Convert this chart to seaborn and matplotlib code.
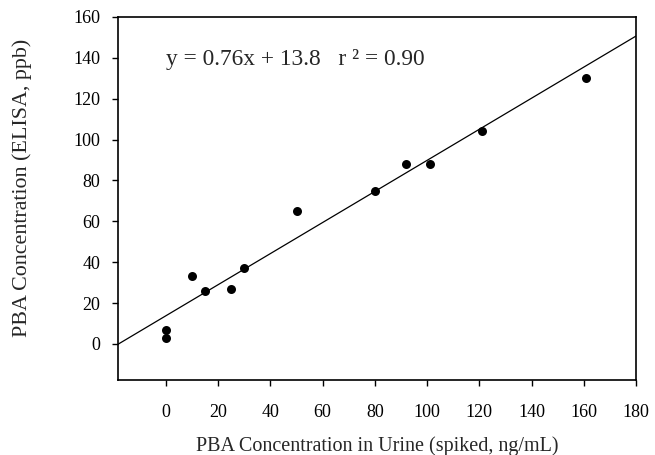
import numpy as np
import pandas as pd
import matplotlib
matplotlib.use("Agg")
import matplotlib.pyplot as plt
import seaborn as sns

# Data
spiked = [0, 0, 10, 15, 25, 30, 50, 80, 92, 101, 121, 161]
elisa = [3, 7, 33, 26, 27, 37, 65, 75, 88, 88, 104, 130]
slope = 0.76
intercept = 13.8
r2 = 0.90
x_ticks = [0, 20, 40, 60, 80, 100, 120, 140, 160, 180]
y_ticks = [0, 20, 40, 60, 80, 100, 120, 140, 160]

sns.set_theme(style="ticks")
plt.rcParams['font.family'] = ['Liberation Serif', 'DejaVu Serif']

fig = plt.figure(figsize=(6.55, 4.55), dpi=100)
ax = fig.add_axes([0.180, 0.165, 0.791, 0.798])

xlim = (-18.4, 180)
ylim = (-17.6, 160)

df = pd.DataFrame({"x": spiked, "y": elisa})
sns.scatterplot(data=df, x="x", y="y", ax=ax, color="black", s=42,
                edgecolor="black", linewidth=0, zorder=3)

xl = np.array(xlim)
line_df = pd.DataFrame({"x": xl, "y": slope * xl + intercept})
sns.lineplot(data=line_df, x="x", y="y", ax=ax, color="black", linewidth=0.9)

ax.set_xlim(*xlim)
ax.set_ylim(*ylim)
ax.set_xticks(x_ticks)
ax.set_yticks(y_ticks)
ax.tick_params(axis="x", direction="out", length=4.5, width=1, pad=13,
               labelsize=13, colors="black")
ax.tick_params(axis="y", direction="out", length=4.5, width=1, pad=8,
               labelsize=13, colors="black")
for sp in ax.spines.values():
    sp.set_visible(True)
    sp.set_color("black")
    sp.set_linewidth(1.2)

ax.set_xlabel("PBA Concentration in Urine (spiked, ng/mL)", fontsize=14.5)
ax.xaxis.set_label_coords(377 / 655, 1 - 446 / 455, transform=fig.transFigure)
ax.xaxis.label.set_va("center")
ax.set_ylabel("PBA Concentration (ELISA, ppb)", fontsize=15.8)
ax.yaxis.set_label_coords(22 / 655, 1 - 188 / 455, transform=fig.transFigure)
ax.yaxis.label.set_va("center")

ax.text(0.0, 139, f"y = {slope:.2f}x + {intercept:.1f}   r ² = {r2:.2f}",
        fontsize=16.8, ha="left", va="center")

fig.savefig("out.png", dpi=100)
